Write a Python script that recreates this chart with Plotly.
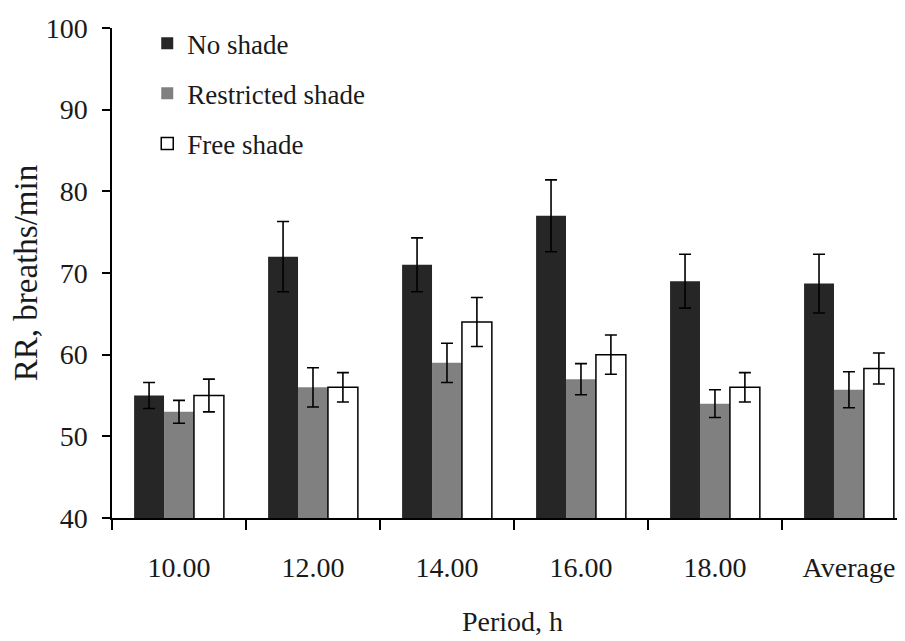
import plotly.graph_objects as go

periods = ["10.00", "12.00", "14.00", "16.00", "18.00", "Average"]
no_shade = [55, 72, 71, 77, 69, 68.7]
no_shade_err = [1.6, 4.3, 3.3, 4.4, 3.3, 3.6]
restricted = [53, 56, 59, 57, 54, 55.7]
restricted_err = [1.4, 2.4, 2.4, 1.9, 1.7, 2.2]
free = [55, 56, 64, 60, 56, 58.3]
free_err = [2.0, 1.8, 3.0, 2.4, 1.8, 1.9]

FONT = "Liberation Serif"
TXT = "#1a1a1a"

def err(vals):
    return dict(type="data", array=vals, visible=True, color="black", thickness=1.6, width=6)

fig = go.Figure()
fig.add_trace(go.Bar(name="No shade", x=periods, y=no_shade, error_y=err(no_shade_err),
                     marker=dict(color="#262626", line=dict(width=0)), legendgroup="a"))
fig.add_trace(go.Bar(name="Restricted shade", x=periods, y=restricted, error_y=err(restricted_err),
                     marker=dict(color="#808080", line=dict(width=0)), legendgroup="b"))
fig.add_trace(go.Bar(name="Free shade", x=periods, y=free, error_y=err(free_err),
                     marker=dict(color="white", line=dict(color="black", width=1.5)), legendgroup="c"))

fig.update_layout(
    width=905, height=641,
    margin=dict(l=104, r=0, t=20, b=131, autoexpand=False),
    paper_bgcolor="white", plot_bgcolor="white",
    barmode="group", bargap=0.33, bargroupgap=0,
    font=dict(family=FONT, size=28, color=TXT),
    showlegend=True,
    legend=dict(x=0.044, y=1.018, xanchor="left", yanchor="top",
                bgcolor="rgba(0,0,0,0)", font=dict(size=27, family=FONT, color=TXT),
                tracegroupgap=12, traceorder="grouped"),
    xaxis=dict(
        type="category", range=[-0.5, 5.478], automargin=False,
        showline=True, linecolor="black", linewidth=1.5,
        ticks="outside", tickson="boundaries", ticklen=10, tickcolor="black", tickwidth=1.5,
        showgrid=False, zeroline=False, ticklabelstandoff=24,
        title=dict(text="Period, h", font=dict(size=28, family=FONT, color=TXT), standoff=29),
    ),
    yaxis=dict(
        range=[40, 100], dtick=10, tick0=40, automargin=False,
        showline=True, linecolor="black", linewidth=1.5,
        ticks="outside", ticklen=8, tickcolor="black", tickwidth=1.5,
        showgrid=False, zeroline=False, ticklabelstandoff=9,
        title=dict(text="RR, breaths/min", font=dict(size=33, family=FONT, color=TXT), standoff=8),
    ),
)

fig.write_html("out.html")
